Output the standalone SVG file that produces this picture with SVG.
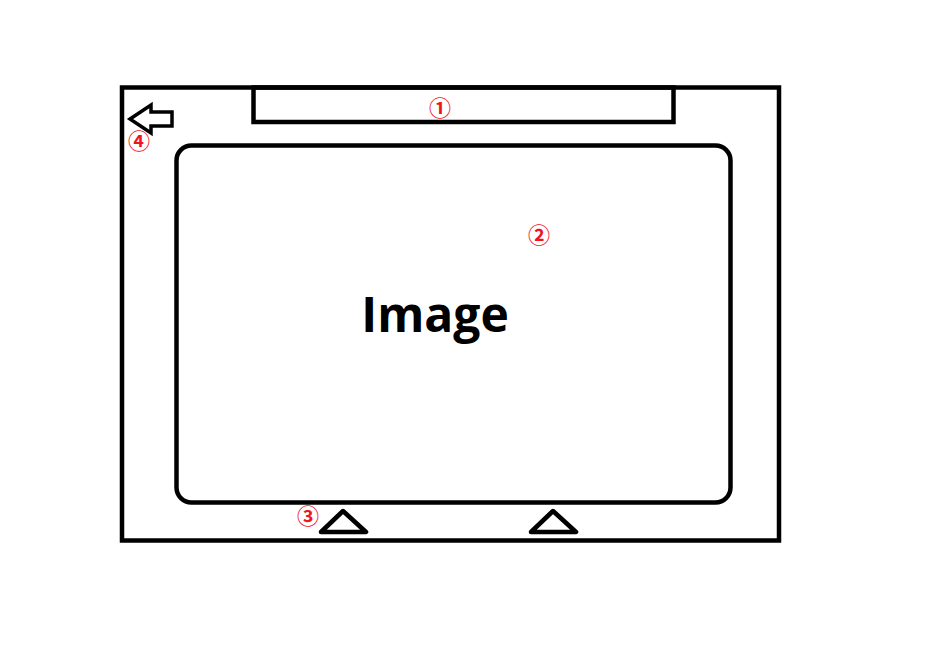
<svg xmlns="http://www.w3.org/2000/svg" width="930" height="668" viewBox="0 0 930 668">
<style>
.ln{fill:none;stroke:#000;stroke-width:4.5}
.num{font-family:"Noto Sans CJK SC","Noto Sans",sans-serif;font-weight:bold;font-size:22px;fill:#f0141e;text-anchor:middle;dominant-baseline:central}
.title{font-family:"Open Sans","Noto Sans",sans-serif;font-weight:bold;font-size:48px;fill:#000;text-anchor:middle}
</style>
<rect width="930" height="668" fill="#fff"/>
<g id="frame">
<rect class="ln" x="122" y="87.5" width="657" height="453"/>
</g>
<g id="title-bar">
<rect class="ln" x="253.5" y="87.5" width="420" height="34.5"/>
<text class="num" x="440" y="106">①</text>
</g>
<g id="image-area">
<rect class="ln" x="176.5" y="145.5" width="554" height="357" rx="15"/>
<text class="title" x="435" y="332">Image</text>
<text class="num" x="539" y="233">②</text>
</g>
<g id="nav-buttons">
<polygon class="ln" points="321,532 343,511 366,532" stroke-linejoin="round"/>
<polygon class="ln" points="531,532 553,511 576,532" stroke-linejoin="round"/>
<text class="num" x="308" y="514">③</text>
</g>
<g id="back-button">
<polygon points="130,119 151,105 151,112 172,112 172,126 151,126 151,133" fill="none" stroke="#000" stroke-width="3.5"/>
<text class="num" x="139" y="139">④</text>
</g>
<g id="connectors"></g>
</svg>
